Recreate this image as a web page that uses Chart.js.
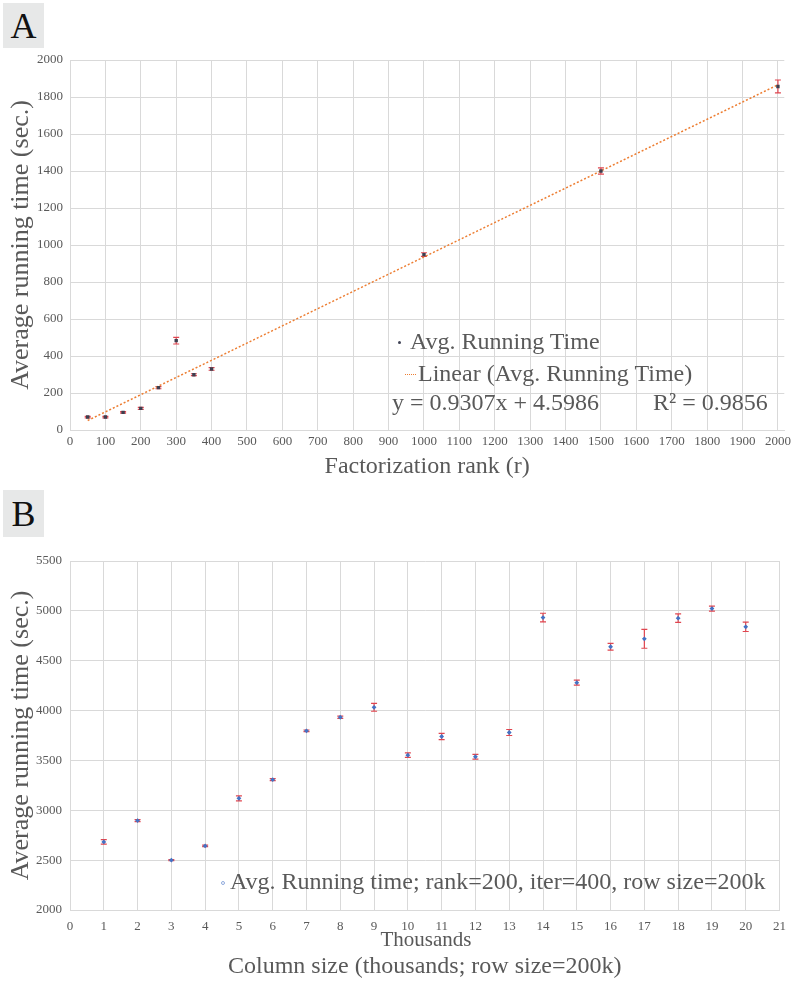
<!DOCTYPE html>
<html>
<head>
<meta charset="utf-8">
<script src="https://cdn.jsdelivr.net/npm/chart.js@4.4.1/dist/chart.umd.min.js"></script>
<style>
body { margin: 0; background: #fff; font-family: "Liberation Serif", "Times New Roman", serif; }
#wrap { position: relative; width: 795px; height: 987px; overflow: hidden; }
canvas { position: absolute; left: 0; }
.tag { position: absolute; left: 3px; width: 41px; background: #e7e8e8; color: #111; font-size: 36px; text-align: center; }
.leg { position: absolute; color: #595959; font-size: 24px; white-space: nowrap; line-height: 1; }
.dot { position: absolute; width: 3px; height: 3px; border-radius: 50%; }
.dash { position: absolute; width: 11px; height: 0; border-top: 1.5px dotted #ed7d31; }
</style>
</head>
<body>
<div id="wrap">
	<div class="tag" style="top:3px;height:45px;line-height:47px;">A</div>
	<canvas id="chartRank" width="795" height="490" style="top:0;"></canvas>
	<div class="dot" style="left:398px;top:341px;background:#404355;"></div>
	<div class="leg" style="left:410px;top:329px;">Avg. Running Time</div>
	<div class="dash" style="left:405px;top:374px;"></div>
	<div class="leg" style="left:418px;top:361px;">Linear (Avg. Running Time)</div>
	<div class="leg" style="left:392px;top:390px;">y = 0.9307x + 4.5986</div>
	<div class="leg" style="left:653px;top:390px;">R² = 0.9856</div>

	<div class="tag" style="top:490px;height:47px;line-height:49px;">B</div>
	<canvas id="chartColumns" width="795" height="497" style="top:490px;"></canvas>
	<div class="dot" style="left:221px;top:881px;background:#fff;border:1px solid #8fa9dc;width:2px;height:2px;"></div>
	<div class="leg" style="left:230px;top:869px;">Avg. Running time; rank=200, iter=400, row size=200k</div>
	<div class="leg" style="left:0;width:852px;text-align:center;top:929px;font-size:21px;">Thousands</div>
</div>

<script>
// panel A: running time vs factorization rank
const rankValues = [50, 100, 150, 200, 250, 300, 350, 400, 1000, 1500, 2000];
const rankTimes = [70, 70, 95, 117, 229, 483, 299, 330, 948, 1400, 1857];
const rankErrors = [4, 4, 4, 5, 6, 18, 5, 7, 10, 17, 35];
const trendSlope = 0.9307;
const trendIntercept = 4.5986;
const trendRange = [50, 2000];

// panel B: running time vs column size (thousands)
const columnSizes = [1, 2, 3, 4, 5, 6, 7, 8, 9, 10, 11, 12, 13, 14, 15, 16, 17, 18, 19, 20];
const columnTimes = [2683, 2897, 2500, 2643, 3120, 3307, 3797, 3933, 4033, 3553, 3740, 3537, 3780, 4933, 4280, 4640, 4720, 4927, 5023, 4840];
const columnErrors = [23, 10, 5, 8, 25, 10, 8, 12, 40, 23, 32, 23, 30, 43, 25, 33, 95, 43, 25, 47];

const textGray = '#595959';
const gridGray = '#d9d9d9';
const serif = '"Liberation Serif", "Times New Roman", serif';

Chart.defaults.font.family = serif;
Chart.defaults.color = textGray;

const errorBars = {
	id: 'errorBars',
	beforeDatasetsDraw(chart, args, opts) {
		const ctx = chart.ctx;
		const xs = chart.scales.x;
		const ys = chart.scales.y;
		const ds = chart.data.datasets[0];
		ctx.save();
		ctx.strokeStyle = opts.color;
		ctx.lineWidth = 1.2;
		ds.data.forEach((p, i) => {
			const err = opts.errors[i];
			const px = xs.getPixelForValue(p.x);
			const top = ys.getPixelForValue(p.y + err);
			const bot = ys.getPixelForValue(p.y - err);
			ctx.beginPath();
			ctx.moveTo(px, top);
			ctx.lineTo(px, bot);
			ctx.moveTo(px - 3, top);
			ctx.lineTo(px + 3, top);
			ctx.moveTo(px - 3, bot);
			ctx.lineTo(px + 3, bot);
			ctx.stroke();
		});
		ctx.restore();
	}
};

const fixWidth = w => function (scale) { scale.width = w; };
const fixHeight = h => function (scale) { scale.height = h; };
const plainNumber = value => String(value);
const tickFont = { family: serif, size: 13 };

let rankPoints = [];
rankValues.forEach((r, i) => {
	rankPoints.push({ x: r, y: rankTimes[i] });
});
let trendPoints = [];
trendRange.forEach(r => {
	trendPoints.push({ x: r, y: trendSlope * r + trendIntercept });
});

const configRank = {
	type: 'scatter',
	data: {
		datasets: [{
			label: 'Avg. Running Time',
			data: rankPoints,
			backgroundColor: '#3c3f50',
			borderColor: '#3c3f50',
			pointStyle: 'rect',
			pointRadius: 2.4,
			borderWidth: 0
		}, {
			label: 'Linear (Avg. Running Time)',
			type: 'line',
			data: trendPoints,
			borderColor: '#ed7d31',
			borderWidth: 1.5,
			borderDash: [2, 2],
			pointRadius: 0,
			fill: false
		}]
	},
	options: {
		responsive: false,
		animation: false,
		layout: { padding: { top: 60, right: 8, left: 0, bottom: 0 } },
		plugins: {
			legend: { display: false },
			tooltip: { enabled: false },
			errorBars: { errors: rankErrors, color: '#e0454f' }
		},
		scales: {
			x: {
				type: 'linear',
				min: 0,
				max: 2018,
				afterFit: fixHeight(60),
				grid: { color: gridGray, drawTicks: false },
				border: { color: gridGray },
				ticks: { stepSize: 100, includeBounds: false, padding: 4, font: tickFont, color: textGray, callback: plainNumber },
				title: { display: true, text: 'Factorization rank (r)', font: { family: serif, size: 24 }, color: textGray, padding: { bottom: 9 } }
			},
			y: {
				min: 0,
				max: 2000,
				afterFit: fixWidth(70),
				grid: { color: gridGray, drawTicks: false },
				border: { color: gridGray },
				ticks: { stepSize: 200, padding: 7, font: tickFont, color: textGray, callback: plainNumber },
				title: { display: true, text: 'Average running time (sec.)', font: { family: serif, size: 26 }, color: textGray, padding: { top: 6 } }
			}
		}
	},
	plugins: [errorBars]
};

let columnPoints = [];
columnSizes.forEach((c, i) => {
	columnPoints.push({ x: c, y: columnTimes[i] });
});

const configColumns = {
	type: 'scatter',
	data: {
		datasets: [{
			label: 'Avg. Running time; rank=200, iter=400, row size=200k',
			data: columnPoints,
			backgroundColor: '#4472c4',
			borderColor: '#4472c4',
			pointStyle: 'rectRot',
			pointRadius: 2.4,
			borderWidth: 0
		}]
	},
	options: {
		responsive: false,
		animation: false,
		layout: { padding: { top: 71, right: 14, left: 0, bottom: 0 } },
		plugins: {
			legend: { display: false },
			tooltip: { enabled: false },
			errorBars: { errors: columnErrors, color: '#e0454f' }
		},
		scales: {
			x: {
				type: 'linear',
				min: 0,
				max: 21,
				afterFit: fixHeight(77),
				grid: { color: gridGray, drawTicks: false },
				border: { color: gridGray },
				ticks: { stepSize: 1, padding: 9, font: tickFont, color: textGray, callback: plainNumber },
				title: { display: true, text: 'Column size (thousands; row size=200k)', font: { family: serif, size: 24 }, color: textGray, padding: { bottom: 6 } }
			},
			y: {
				min: 2000,
				max: 5500,
				afterFit: fixWidth(70),
				grid: { color: gridGray, drawTicks: false },
				border: { color: gridGray },
				ticks: { stepSize: 500, padding: 8, font: tickFont, color: textGray, callback: plainNumber },
				title: { display: true, text: 'Average running time (sec.)', font: { family: serif, size: 26 }, color: textGray, padding: { top: 6 } }
			}
		}
	},
	plugins: [errorBars]
};

const RankChart = new Chart(document.getElementById('chartRank'), configRank);
const ColumnsChart = new Chart(document.getElementById('chartColumns'), configColumns);
</script>
</body>
</html>
